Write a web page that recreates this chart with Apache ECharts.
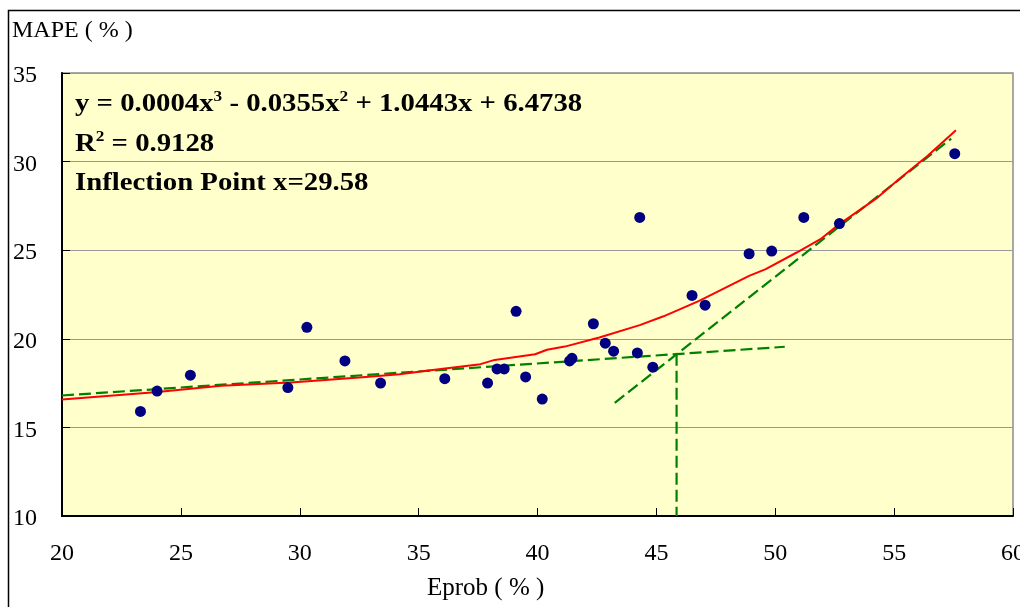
<!DOCTYPE html>
<html>
<head>
<meta charset="utf-8">
<script src="https://cdn.jsdelivr.net/npm/echarts@6/dist/echarts.min.js"></script>
<style>
  html, body { margin: 0; padding: 0; background: #fff; }
  #chart { width: 1020px; height: 607px; }
</style>
</head>
<body>
<div id="chart"></div>
<script>
// observed points (Eprob %, MAPE %)
const pointX = [23.3, 24.0, 25.4, 29.5, 30.3, 31.9, 33.4, 36.1, 37.9, 38.3, 38.6, 39.1, 39.5, 40.2,
  41.35, 41.45, 42.35, 42.85, 43.2, 44.3, 44.2, 44.85, 46.5, 47.05, 48.9, 49.85, 51.2, 52.7, 57.55];
const pointY = [15.9, 17.05, 17.95, 17.25, 20.65, 18.75, 17.5, 17.75, 17.5, 18.3, 18.3, 21.55, 17.85, 16.6,
  18.75, 18.9, 20.85, 19.75, 19.3, 26.85, 19.2, 18.4, 22.45, 21.9, 24.8, 24.95, 26.85, 26.5, 30.45];

// fitted curve as drawn (red)
const fitX = [20, 23.9, 26.7, 29.6, 30.2, 32.5, 34.2, 35.5, 37.6, 38.2, 39.9, 40.4, 41.15, 42.6,
  44.3, 45.3, 46.8, 48.9, 49.6, 50.9, 51.9, 52.7, 54.3, 55.2, 56.4, 57.6];
const fitY = [16.57, 16.99, 17.35, 17.53, 17.59, 17.81, 18.0, 18.23, 18.57, 18.81, 19.13, 19.38, 19.56, 20.07,
  20.77, 21.27, 22.14, 23.55, 23.93, 24.87, 25.62, 26.47, 27.97, 29.0, 30.32, 31.77];

// green dashed helper lines
const flatLine = [[20, 16.8], [50.4, 19.55]];
const steepLine = [[43.25, 16.39], [57.4, 31.3]];
const dropLine = [[45.85, 19.15], [45.85, 10]];

const xTicks = { min: 20, max: 60, step: 5 };
const yTicks = { min: 10, max: 35, step: 5 };

const serif = '"Liberation Serif", "Times New Roman", serif';
const chart = echarts.init(document.getElementById('chart'));

const dashed = (name, data) => ({
  name: name,
  type: 'line',
  data: data,
  showSymbol: false,
  silent: true,
  z: 3,
  lineStyle: { color: '#008000', width: 2.2, type: [12, 5] }
});

chart.setOption({
  backgroundColor: '#ffffff',
  animation: false,
  grid: {
    left: 62, top: 73, right: 7, bottom: 91,
    outerBoundsMode: 'none',
    containLabel: false,
    show: true,
    backgroundColor: '#FFFFCC',
    borderColor: '#8c8c8c',
    borderWidth: 1.5
  },
  xAxis: {
    type: 'value',
    min: xTicks.min, max: xTicks.max, interval: xTicks.step,
    axisLine: { show: true, onZero: false, lineStyle: { color: '#000', width: 2 } },
    axisTick: { show: true, inside: true, length: 8, lineStyle: { color: '#000' } },
    splitLine: { show: false },
    axisLabel: { color: '#000', fontFamily: serif, fontSize: 24, margin: 26 }
  },
  yAxis: {
    type: 'value',
    min: yTicks.min, max: yTicks.max, interval: yTicks.step,
    axisLine: { show: true, onZero: false, lineStyle: { color: '#000', width: 2 } },
    axisTick: { show: true, inside: true, length: 8, lineStyle: { color: '#000' } },
    splitLine: { show: true, lineStyle: { color: '#999', width: 1.2 } },
    axisLabel: {
      align: 'left', margin: 49,
      formatter: v => '{n|' + v + '}',
      rich: {
        n: { color: '#000', fontFamily: serif, fontSize: 24, padding: [6, 0, 0, 0] }
      }
    }
  },
  series: [
    dashed('flat', flatLine),
    dashed('steep', steepLine),
    dashed('drop', dropLine),
    {
      name: 'fit',
      type: 'line',
      data: fitX.map((x, i) => [x, fitY[i]]),
      showSymbol: false,
      silent: true,
      z: 4,
      lineStyle: { color: '#FF0000', width: 2 }
    },
    {
      name: 'MAPE',
      type: 'scatter',
      data: pointX.map((x, i) => [x, pointY[i]]),
      symbolSize: 11,
      z: 5,
      itemStyle: { color: '#000080', opacity: 1 }
    }
  ],
  graphic: [
    {
      type: 'rect',
      shape: { x: 8.5, y: 10.5, width: 1100, height: 700 },
      style: { fill: 'none', stroke: '#000', lineWidth: 1.5 },
      silent: true, z: 0
    },
    {
      type: 'text', left: 12, top: 19,
      style: { text: 'MAPE ( % )', font: '24px ' + serif, fill: '#000' }
    },
    {
      type: 'text', left: 427, top: 576,
      style: { text: 'Eprob ( % )', font: '25px ' + serif, fill: '#000' }
    },
    {
      type: 'text', x: 75, y: 85, scaleX: 1.15, z: 10,
      style: {
        text: '{t|y = 0.0004x}{s|3}{t| - 0.0355x}{s|2}{t| + 1.0443x + 6.4738}\n' +
              '{t|R}{s|2}{t| = 0.9128}\n' +
              '{t|Inflection Point x=29.58}',
        fill: '#000',
        rich: {
          t: { font: 'bold 25px ' + serif, lineHeight: 39.5, fill: '#000' },
          s: { font: 'bold 15px ' + serif, lineHeight: 39.5, verticalAlign: 'top', padding: [5, 0, 0, 0], fill: '#000' }
        }
      }
    }
  ]
});
</script>
</body>
</html>
